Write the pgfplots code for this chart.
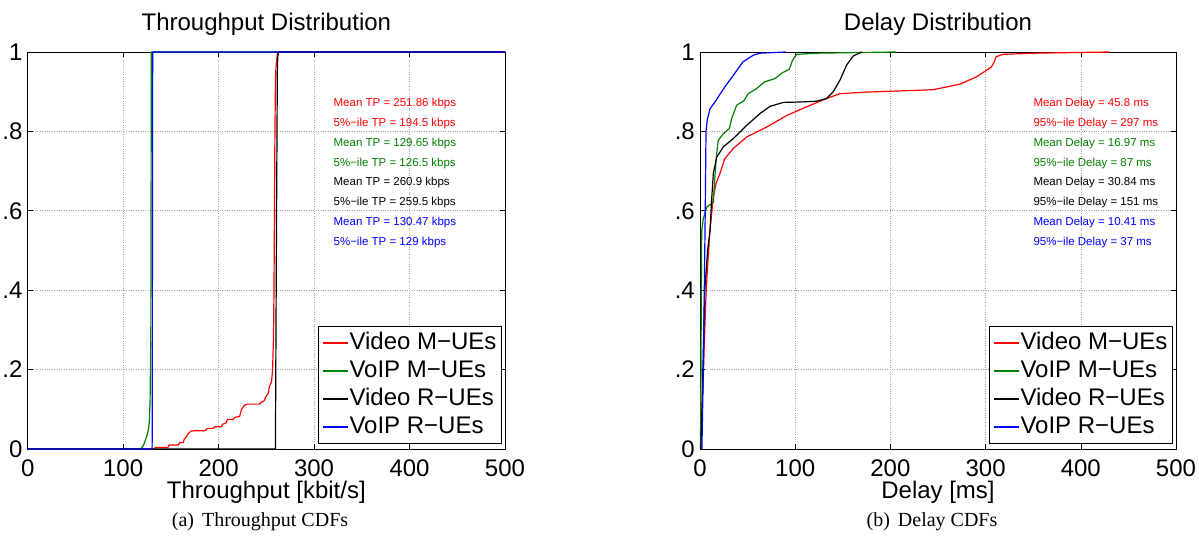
\documentclass[border=0pt]{standalone}
\usepackage{fontspec}
\setmainfont{Liberation Sans}
\newfontfamily\seriffont{Liberation Serif}
\usepackage{pgfplots}
\pgfplotsset{compat=1.18}
\definecolor{mgreen}{rgb}{0,0.5,0}
\tikzset{annot/.style={font=\fontsize{11.5}{13}\selectfont, anchor=base west, inner sep=0pt}}
\pgfplotsset{
  cdfstyle/.style={
    scale only axis, height=397pt,
    xmin=0, xmax=500, ymin=0, ymax=1,
    clip=false,
    xtick={0,100,200,300,400,500}, xticklabels={0,100,200,300,400,500},
    ytick={0,0.2,0.4,0.6,0.8,1}, yticklabels={0,.2,.4,.6,.8,1},
    tick align=inside, major tick length=5pt,
    grid=major, major grid style={dotted, gray!70, line width=0.6pt},
    axis line style={line width=0.8pt},
    every tick/.style={black, line width=0.6pt},
    tick label style={font=\fontsize{24}{28}\selectfont},
    xticklabel style={anchor=base, inner sep=0pt, yshift=-27.5pt},
    yticklabel style={anchor=east, inner sep=2pt, xshift=-3pt},
    title style={font=\fontsize{24}{28}\selectfont, at={(axis description cs:0.5,1)}, anchor=base, yshift=15pt},
    xlabel style={font=\fontsize{24}{28}\selectfont, inner sep=0pt, at={(axis description cs:0.5,0)}, anchor=base, yshift=-49.5pt},
    legend cell align=left,
    legend style={at={(axis description cs:1,0)}, anchor=south east, xshift=-3.3pt, yshift=5.5pt,
      font=\fontsize{24}{28}\selectfont, draw=black, inner sep=4pt, row sep=3pt,
      nodes={inner sep=1pt, text height=18pt, text depth=5pt}},
    /tikz/every even column/.append style={column sep=0pt},
    legend image code/.code={\draw[##1, line width=1.6pt] plot coordinates {(0pt,0pt)(25pt,0pt)};},
    every axis plot/.append style={line width=1.2pt, line join=round},
  },
}
\begin{document}
\begin{tikzpicture}
\path[use as bounding box] (0pt,0pt) rectangle (1199pt,538pt);
% ---------------- Throughput
\begin{axis}[cdfstyle, width=477.3pt, at={(27.7pt,89pt)}, anchor=south west,
  title={Throughput Distribution}, xlabel={Throughput [kbit/s]}]
\addplot[red] coordinates {(0,0)(133,0)(133.5,0.004)(147,0.004)(148,0.01)(158,0.01)(159,0.016)(163,0.016)(164,0.025)(166,0.03)(168,0.038)(171,0.045)(175,0.046)(186,0.046)(188,0.052)(194,0.052)(196,0.056)(203,0.056)(204,0.062)(208,0.066)(209,0.074)(215,0.074)(217,0.08)(222,0.082)(224,0.1)(227,0.11)(230,0.113)(243,0.113)(245,0.118)(248,0.122)(249,0.13)(252,0.14)(253,0.155)(255.5,0.17)(256.5,0.2)(257.5,0.28)(258,0.4)(258.5,0.6)(259,0.8)(259.5,0.92)(260,0.96)(261,0.985)(262,1)(500,1)};
\addlegendentry{Video M−UEs}
\addplot[mgreen] coordinates {(0,0)(118,0)(121,0.008)(123,0.02)(125,0.035)(126.5,0.05)(127.3,0.065)(128.2,0.12)(129,0.3)(129.5,1)(500,1)};
\addlegendentry{VoIP M−UEs}
\addplot[black] coordinates {(0,0)(259.5,0)(259.6,0.05)(260.5,0.5)(261.5,0.95)(262,0.99)(263,1)(500,1)};
\addlegendentry{Video R−UEs}
\addplot[blue] coordinates {(0,0)(130.3,0)(130.5,0.05)(130.8,0.9)(131,1)(500,1)};
\addlegendentry{VoIP R−UEs}
\node[annot, text=red]    at (axis cs:320.3,0.862) {Mean TP = 251.86 kbps};
\node[annot, text=red]    at (axis cs:320.3,0.8122) {5\%−ile TP = 194.5 kbps};
\node[annot, text=mgreen] at (axis cs:320.3,0.7625) {Mean TP = 129.65 kbps};
\node[annot, text=mgreen] at (axis cs:320.3,0.7127) {5\%−ile TP = 126.5 kbps};
\node[annot, text=black]  at (axis cs:320.3,0.663) {Mean TP = 260.9 kbps};
\node[annot, text=black]  at (axis cs:320.3,0.6132) {5\%−ile TP = 259.5 kbps};
\node[annot, text=blue]   at (axis cs:320.3,0.5635) {Mean TP = 130.47 kbps};
\node[annot, text=blue]   at (axis cs:320.3,0.5137) {5\%−ile TP = 129 kbps};
\end{axis}
% ---------------- Delay
\begin{axis}[cdfstyle, width=476pt, at={(700pt,89pt)}, anchor=south west,
  title={Delay Distribution}, xlabel={Delay [ms]}]
\addplot[red] coordinates {(0.5,0)(1,0.03)(3,0.15)(5,0.3)(6.5,0.4)(8.5,0.48)(10.5,0.55)(14,0.635)(17,0.67)(21,0.694)(26,0.731)(35,0.757)(49,0.786)(70,0.811)(91,0.84)(112,0.862)(133,0.883)(147,0.895)(175,0.899)(210,0.902)(245,0.905)(273,0.919)(290,0.937)(301,0.954)(306,0.962)(309,0.975)(311,0.988)(318,0.994)(350,0.997)(430,1)};
\addlegendentry{Video M−UEs}
\addplot[mgreen] coordinates {(0.5,0)(1,0.2)(1.5,0.45)(1.8,0.55)(3.5,0.58)(7,0.609)(14,0.622)(15.5,0.68)(17.5,0.744)(19.2,0.778)(24.5,0.794)(30.8,0.807)(33.2,0.832)(38.5,0.866)(46,0.877)(50.7,0.895)(59.5,0.908)(68,0.925)(78.7,0.933)(86.7,0.948)(93.7,0.956)(97.2,0.979)(101.4,0.994)(122,0.997)(206,1)};
\addlegendentry{VoIP M−UEs}
\addplot[black] coordinates {(1,0)(3,0.2)(5,0.4)(8,0.5)(10.5,0.55)(12,0.62)(14,0.694)(17.5,0.735)(24.5,0.761)(35,0.782)(49,0.815)(63,0.845)(73.5,0.863)(87.4,0.873)(105,0.874)(122.5,0.876)(133,0.883)(140,0.9)(147,0.929)(154,0.967)(161,0.99)(170,1)};
\addlegendentry{Video R−UEs}
\addplot[blue] coordinates {(2,0)(3.5,0.2)(4.5,0.4)(5.5,0.6)(6.3,0.8)(7.7,0.83)(10.5,0.857)(15.7,0.874)(26,0.912)(35,0.941)(45,0.975)(56,0.992)(63,0.997)(90,1)};
\addlegendentry{VoIP R−UEs}
\node[annot, text=red]    at (axis cs:350.1,0.862) {Mean Delay = 45.8 ms};
\node[annot, text=red]    at (axis cs:350.1,0.8122) {95\%−ile Delay = 297 ms};
\node[annot, text=mgreen] at (axis cs:350.1,0.7625) {Mean Delay = 16.97 ms};
\node[annot, text=mgreen] at (axis cs:350.1,0.7127) {95\%−ile Delay = 87 ms};
\node[annot, text=black]  at (axis cs:350.1,0.663) {Mean Delay = 30.84 ms};
\node[annot, text=black]  at (axis cs:350.1,0.6132) {95\%−ile Delay = 151 ms};
\node[annot, text=blue]   at (axis cs:350.1,0.5635) {Mean Delay = 10.41 ms};
\node[annot, text=blue]   at (axis cs:350.1,0.5137) {95\%−ile Delay = 37 ms};
\end{axis}
\node[font=\seriffont\fontsize{20}{24}\selectfont, anchor=base] at (260pt,12pt) {(a)\hspace{8pt}Throughput CDFs};
\node[font=\seriffont\fontsize{20}{24}\selectfont, anchor=base] at (932pt,12pt) {(b)\hspace{8pt}Delay CDFs};
\end{tikzpicture}
\end{document}
